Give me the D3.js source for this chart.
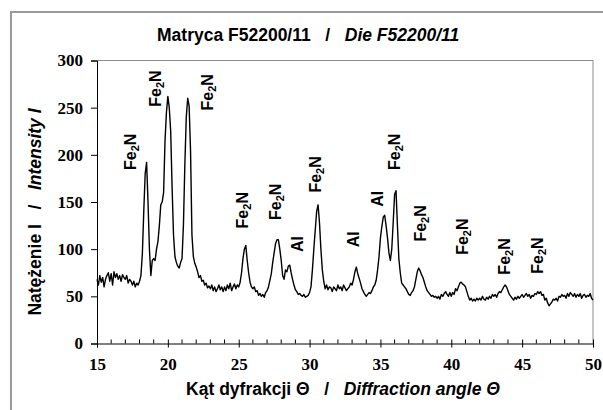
<!DOCTYPE html>
<html>
<head>
<meta charset="utf-8">
<script src="https://cdn.jsdelivr.net/npm/d3@7"></script>
<style>
  body { margin: 0; background: #fff; }
  svg { display: block; }
</style>
</head>
<body>
<div id="vis"></div>
<script>
const WIDTH = 603;
const HEIGHT = 410;
const MARGIN = { top: 60.5, right: 10, bottom: 66.5, left: 97 };
const SANS = "'Liberation Sans', Arial, sans-serif";
const SERIF = "'Liberation Serif', 'Times New Roman', serif";

// ############
// data
// ############
const ANGLE_START = 15;
const ANGLE_STEP = 0.1;

// intensity every 0.1 deg, 15.0 .. 50.0
const intensity = [
  68, 62, 72, 65, 70, 60, 68, 72, 75, 66,          // 15
  74, 62, 76, 70, 74, 68, 72, 66, 73, 70,          // 16
  68, 72, 64, 68, 66, 62, 66, 60, 64, 62,          // 17
  66, 72, 95, 140, 180, 192, 150, 100, 72, 88,     // 18
  90, 88, 100, 108, 125, 147, 150, 160, 215, 245,  // 19
  262, 250, 225, 165, 115, 92, 86, 82, 80, 86,     // 20
  90, 126, 190, 240, 260, 252, 205, 115, 92, 85,   // 21
  81, 76, 70, 72, 66, 67, 62, 64, 59, 61,          // 22
  58, 62, 56, 60, 55, 58, 62, 57, 60, 55,          // 23
  60, 56, 62, 58, 64, 56, 60, 63, 58, 62,          // 24
  60, 65, 75, 90, 100, 104, 88, 75, 65, 60,        // 25
  58, 60, 55, 56, 51, 53, 50, 52, 49, 54,          // 26
  56, 60, 67, 74, 86, 96, 106, 110, 110, 100,      // 27
  88, 72, 68, 78, 76, 82, 83, 75, 68, 62,          // 28
  57, 55, 52, 53, 51, 50, 52, 49, 50, 51,          // 29
  54, 60, 78, 100, 120, 140, 147, 128, 100, 78,    // 30
  66, 58, 62, 57, 60, 59, 55, 60, 58, 56,          // 31
  62, 58, 60, 56, 62, 59, 56, 58, 60, 64,          // 32
  62, 68, 76, 81, 74, 69, 64, 58, 55, 52,          // 33
  50, 52, 54, 53, 56, 60, 62, 67, 78, 92,          // 34
  112, 124, 134, 136, 125, 112, 96, 88, 100, 128,  // 35
  158, 162, 125, 90, 75, 64, 62, 60, 58, 55,       // 36
  52, 51, 54, 56, 60, 68, 76, 80, 77, 73,          // 37
  70, 65, 60, 56, 54, 52, 50, 51, 49, 50,          // 38
  48, 50, 47, 52, 50, 53, 55, 52, 50, 54,          // 39
  50, 54, 52, 58, 56, 60, 64, 65, 63, 62,          // 40
  60, 55, 50, 46, 48, 45, 47, 45, 48, 46,          // 41
  48, 46, 50, 47, 46, 49, 47, 50, 48, 52,          // 42
  50, 52, 49, 53, 55, 54, 57, 60, 62, 60,          // 43
  56, 52, 50, 48, 46, 49, 47, 50, 48, 50,          // 44
  52, 49, 51, 53, 50, 52, 48, 51, 50, 53,          // 45
  52, 55, 53, 55, 51, 52, 46, 48, 43, 40,          // 46
  42, 44, 47, 46, 48, 45, 50, 49, 52, 50,          // 47
  51, 48, 53, 50, 54, 52, 50, 53, 49, 52,          // 48
  50, 53, 48, 51, 52, 49, 51, 50, 53, 48,          // 49
  46                                               // 50
];

// peak labels: phase, angle and intensity at the foot of the rotated label
const labelPhase = ["Fe2N", "Fe2N", "Fe2N", "Fe2N", "Fe2N", "Al", "Fe2N",
  "Al", "Al", "Fe2N", "Fe2N", "Fe2N", "Fe2N", "Fe2N"];
const labelAngle = [17.68, 19.45, 23.12, 25.58, 27.91, 29.47, 30.74,
  33.42, 35.11, 36.31, 38.15, 41.11, 44.07, 46.40];
const labelIntensity = [184, 251, 247, 122, 131, 97, 160,
  102, 145, 184, 108, 94, 73, 74];

const xTicks = [15, 20, 25, 30, 35, 40, 45, 50];
const xMinorTicks = d3.range(15, 51, 1);
const yTicks = [0, 50, 100, 150, 200, 250, 300];

// ############
// draw()
// ############
const points = intensity.map((v, i) => ({
  angle: ANGLE_START + i * ANGLE_STEP,
  value: v
}));

const svg = d3.select("#vis")
  .append("svg")
  .attr("width", WIDTH)
  .attr("height", HEIGHT);

svg.append("rect")
  .attr("width", WIDTH)
  .attr("height", HEIGHT)
  .attr("fill", "#fff");

// outer chart border (runs off the right and bottom)
svg.append("rect")
  .attr("x", 11)
  .attr("y", 12)
  .attr("width", 620)
  .attr("height", 430)
  .attr("fill", "none")
  .attr("stroke", "#9a9a9a")
  .attr("stroke-width", 2);

const x = d3.scaleLinear()
  .domain([15, 50])
  .range([MARGIN.left, WIDTH - MARGIN.right]);

const y = d3.scaleLinear()
  .domain([0, 300])
  .range([HEIGHT - MARGIN.bottom, MARGIN.top]);

// plot frame, top and right
svg.append("path")
  .attr("d", `M${x(15)},${y(300)}H${x(50)}V${y(0)}`)
  .attr("fill", "none")
  .attr("stroke", "#8c8c8c")
  .attr("stroke-width", 1);

// y axis
const yAxis = svg.append("g")
  .attr("transform", `translate(${x(15)},0)`)
  .call(d3.axisLeft(y).tickValues(yTicks).tickSize(6).tickPadding(8));

// x axis
const xAxis = svg.append("g")
  .attr("transform", `translate(0,${y(0)})`)
  .call(d3.axisBottom(x).tickValues(xTicks).tickSize(4).tickPadding(10));

xAxis.selectAll(".tick line").attr("y1", -4).attr("y2", 4);

xAxis.selectAll("line.minor")
  .data(xMinorTicks.filter((d) => !xTicks.includes(d)))
  .join("line")
  .attr("class", "minor")
  .attr("x1", (d) => x(d))
  .attr("x2", (d) => x(d))
  .attr("y1", -4)
  .attr("y2", 0)
  .attr("stroke", "#000");

[yAxis, xAxis].forEach((g) => {
  g.select(".domain").attr("stroke", "#000");
  g.selectAll(".tick line").attr("stroke", "#000");
  g.selectAll(".tick text")
    .attr("font-family", SERIF)
    .attr("font-weight", "bold")
    .attr("font-size", 17)
    .attr("fill", "#000");
});

// diffraction curve
const line = d3.line()
  .x((d) => x(d.angle))
  .y((d) => y(d.value));

svg.append("path")
  .datum(points)
  .attr("d", line)
  .attr("fill", "none")
  .attr("stroke", "#000")
  .attr("stroke-width", 1.4)
  .attr("stroke-linejoin", "round");

// peak labels
const labels = svg.selectAll("text.peak")
  .data(labelPhase.map((p, i) => ({ phase: p, angle: labelAngle[i], value: labelIntensity[i] })))
  .join("text")
  .attr("class", "peak")
  .attr("transform", (d) => `translate(${x(d.angle) + 1},${y(d.value)}) rotate(-90)`)
  .attr("font-family", SANS)
  .attr("font-weight", "bold")
  .attr("font-size", 16)
  .attr("fill", "#000");

labels.each(function (d) {
  const t = d3.select(this);
  if (d.phase == "Fe2N") {
    t.append("tspan").text("Fe");
    t.append("tspan").attr("font-size", 11).attr("dy", 3).text("2");
    t.append("tspan").attr("dy", -3).text("N");
  } else {
    t.text(d.phase);
  }
});

// title
const title = svg.append("text")
  .attr("x", 157)
  .attr("y", 41)
  .attr("font-family", SANS)
  .attr("font-weight", "bold")
  .attr("font-size", 17.5)
  .attr("xml:space", "preserve");
title.append("tspan").text("Matryca F52200/11   /   ");
title.append("tspan").attr("font-style", "italic").text("Die F52200/11");

// x axis title
const xTitle = svg.append("text")
  .attr("x", 343)
  .attr("y", 395)
  .attr("text-anchor", "middle")
  .attr("font-family", SANS)
  .attr("font-weight", "bold")
  .attr("font-size", 17.5)
  .attr("xml:space", "preserve");
xTitle.append("tspan").text("Kąt dyfrakcji Θ   /   ");
xTitle.append("tspan").attr("font-style", "italic").text("Diffraction angle Θ");

// y axis title
const yTitle = svg.append("text")
  .attr("transform", "translate(41,212) rotate(-90)")
  .attr("text-anchor", "middle")
  .attr("font-family", SANS)
  .attr("font-weight", "bold")
  .attr("font-size", 17.5)
  .attr("xml:space", "preserve");
yTitle.append("tspan").text("Natężenie I   /   ");
yTitle.append("tspan").attr("font-style", "italic").text("Intensity I");
</script>
</body>
</html>
